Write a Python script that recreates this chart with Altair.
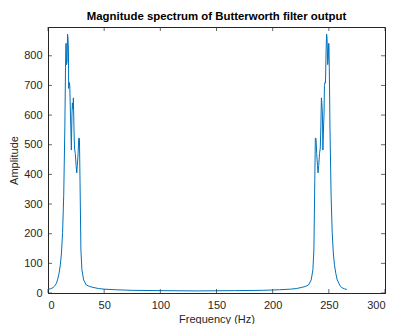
import altair as alt
import pandas as pd

# Frequency (Hz) and amplitude
freq = [0, 2, 4.4, 6, 7.4, 8.5, 9.8, 11, 12, 13, 14, 15, 15.6, 15.9, 16.2, 16.5, 17.0, 17.4,
        17.8, 18.2, 18.4, 18.9, 19.4, 20.0, 20.3, 20.8, 21.3, 21.7, 22.3, 22.6, 23.1, 23.6,
        24.3, 25.0, 25.6, 26.1, 26.8, 27.4, 28.0, 28.5, 29.3, 30.2, 31.7, 34.1, 37, 40, 45,
        50, 60, 75, 100, 133,
        166, 191, 206, 216, 221, 226, 229, 231.9, 234.3, 235.8, 236.7, 237.5, 238.0, 238.6,
        239.2, 239.9, 240.4, 241.0, 241.7, 242.4, 242.9, 243.4, 243.8, 244.3, 244.7, 245.3,
        245.7, 246.1, 246.6, 247.0, 247.6, 248.0, 248.4, 248.6, 249.0, 249.5, 249.8, 250.1,
        250.4, 251.0, 252, 253, 254, 255, 256.2, 257.5, 259, 260, 261.6, 264, 266]
amp = [12, 14, 18, 24, 32, 44, 66, 95, 135, 205, 330, 560, 760, 840, 842, 770, 780, 873,
       860, 820, 690, 710, 700, 600, 560, 482, 600, 641, 620, 658, 560, 489,
       470, 430, 405, 430, 470, 523, 520, 380, 145, 78, 44, 27, 22, 19, 15,
       13, 11, 9, 8, 7,
       8, 9, 11, 13, 15, 19, 22, 27, 44, 78, 145, 380, 523, 520,
       470, 430, 405, 430, 470, 489, 560, 658, 640, 600, 482, 560,
       600, 700, 710, 708, 820, 873, 860, 836, 770, 790, 842, 840,
       760, 560, 330, 205, 135, 95, 66, 44, 32, 24, 18, 14, 12]

x_ticks = [0, 50, 100, 150, 200, 250, 300]
y_ticks = [0, 100, 200, 300, 400, 500, 600, 700, 800]

W, H = 337, 266
YMAX = 897
FONT = "Liberation Sans"
AX = "#262626"

line_df = pd.DataFrame({"f": freq, "a": amp})
xt_df = pd.DataFrame({"f": x_ticks})
yt_df = pd.DataFrame({"a": y_ticks})

xscale = alt.Scale(domain=[0, 300], nice=False, zero=False)
yscale = alt.Scale(domain=[0, YMAX], nice=False, zero=False)
x_axis = alt.Axis(values=x_ticks, title="Frequency (Hz)", ticks=False,
                  labelPadding=6, titlePadding=3, grid=False)
y_axis = alt.Axis(values=y_ticks, title="Amplitude", ticks=False,
                  labelPadding=6, titlePadding=4, grid=False)

line = alt.Chart(line_df).mark_line(color="#0072BD", strokeWidth=1).encode(
    x=alt.X("f:Q", scale=xscale, axis=x_axis),
    y=alt.Y("a:Q", scale=yscale, axis=y_axis),
)

xt_bottom = alt.Chart(xt_df).mark_tick(color=AX, thickness=1, size=4, yOffset=-2).encode(
    x=alt.X("f:Q", scale=xscale, axis=x_axis), y=alt.value(H))
xt_top = alt.Chart(xt_df).mark_tick(color=AX, thickness=1, size=4, yOffset=2).encode(
    x=alt.X("f:Q", scale=xscale, axis=x_axis), y=alt.value(0))
yt_left = alt.Chart(yt_df).mark_tick(color=AX, thickness=1, size=4, xOffset=2).encode(
    y=alt.Y("a:Q", scale=yscale, axis=y_axis), x=alt.value(0))
yt_right = alt.Chart(yt_df).mark_tick(color=AX, thickness=1, size=4, xOffset=-2).encode(
    y=alt.Y("a:Q", scale=yscale, axis=y_axis), x=alt.value(W))

chart = alt.layer(line, xt_bottom, xt_top, yt_left, yt_right).properties(
    width=W, height=H,
    background="white",
    title=alt.TitleParams("Magnitude spectrum of Butterworth filter output",
                          font=FONT, fontSize=11.4, fontWeight="bold", color="#000000",
                          offset=5, anchor="middle"),
    padding={"left": 40, "top": 19, "right": 2, "bottom": 32},
    autosize=alt.AutoSizeParams(type="none"),
).configure_view(stroke=AX, strokeWidth=1).configure_axis(
    domainColor=AX, labelColor=AX, titleColor=AX, labelFont=FONT, titleFont=FONT,
    labelFontSize=11, titleFontSize=11, titleFontWeight="normal",
)

chart.save("out.html", embed_options={"renderer": "svg", "actions": False})
